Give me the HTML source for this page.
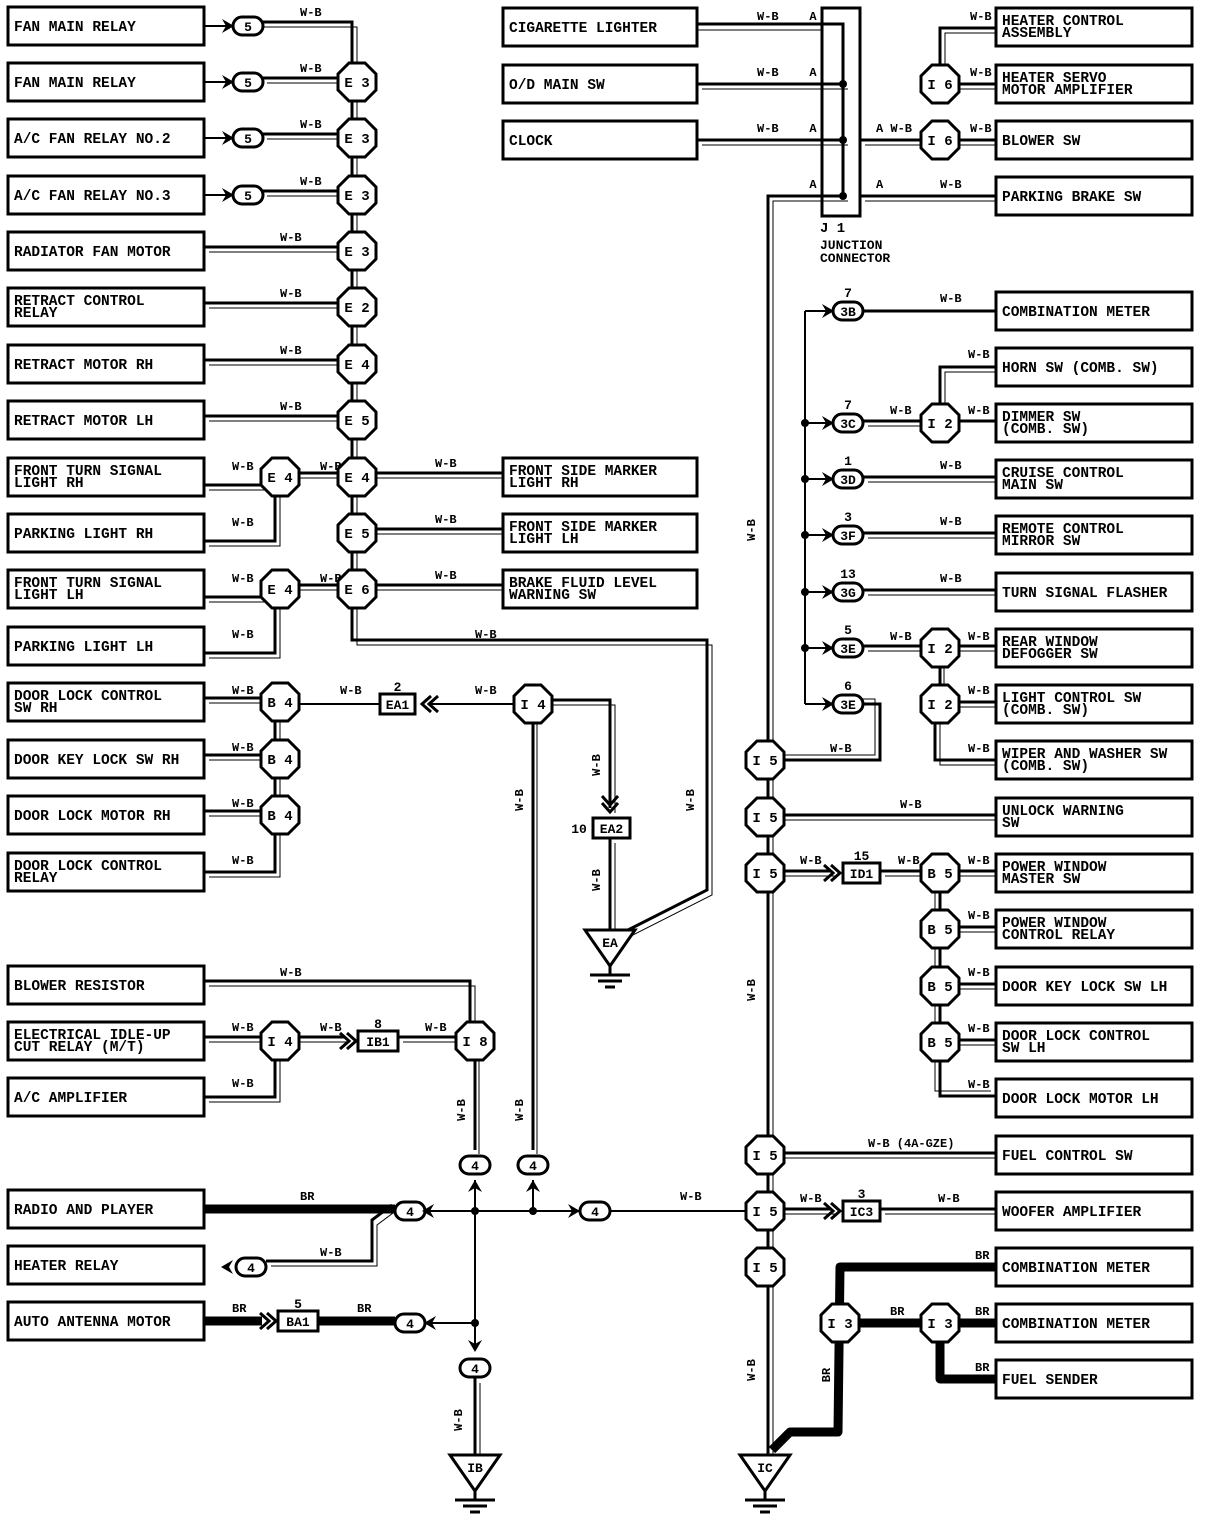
<!DOCTYPE html>
<html><head><meta charset="utf-8"><style>
html,body{margin:0;padding:0;background:#fff;}
svg{display:block;}
text{font-family:"Liberation Mono",monospace;font-weight:bold;fill:#000;}
</style></head><body>
<svg id="s" width="1216" height="1524" viewBox="0 0 1216 1524" xmlns="http://www.w3.org/2000/svg"></svg>
<script>
var W=[],N=[];
function P(a){return a.map(function(p){return p[0]+','+p[1]}).join(' ');}
function wire(pts,off){off=(off===undefined)?5:off;
 W.push('<polyline points="'+P(pts)+'" fill="none" stroke="#000" stroke-width="3"/>');
 if(off) W.push('<polyline points="'+P(pts.map(function(p){return [p[0]+off,p[1]+off]}))+'" fill="none" stroke="#000" stroke-width="1"/>');}
function thin(pts){W.push('<polyline points="'+P(pts)+'" fill="none" stroke="#000" stroke-width="2"/>');}
function thick(pts){W.push('<polyline points="'+P(pts)+'" fill="none" stroke="#000" stroke-width="9" stroke-linejoin="round"/>');}
function t(x,y,s,sz,anch){sz=sz||12;N.push('<text x="'+x+'" y="'+y+'" font-size="'+sz+'"'+(anch?' text-anchor="'+anch+'"':'')+'>'+s+'</text>');}
function tv(x,y,s){N.push('<text x="'+x+'" y="'+y+'" font-size="12" transform="rotate(-90 '+x+' '+y+')" text-anchor="middle">'+s+'</text>');}
function box(x,cy,w,s){N.push('<rect x="'+x+'" y="'+(cy-19)+'" width="'+w+'" height="38" fill="#fff" stroke="#000" stroke-width="3"/>');
 var l=s.split('|');
 if(l.length==1) t(x+6,cy+5,l[0],14.5);
 else {t(x+6,cy-2,l[0],14.5);t(x+6,cy+10,l[1],14.5);}}
function oct(cx,cy,s){var r=19,a=8;
 N.push('<polygon points="'+P([[cx-a,cy-r],[cx+a,cy-r],[cx+r,cy-a],[cx+r,cy+a],[cx+a,cy+r],[cx-a,cy+r],[cx-r,cy+a],[cx-r,cy-a]])+'" fill="#fff" stroke="#000" stroke-width="3"/>');
 t(cx,cy+5,s,14,'middle');}
function ov(cx,cy,s){N.push('<rect x="'+(cx-15)+'" y="'+(cy-9)+'" width="30" height="18" rx="9" fill="#fff" stroke="#000" stroke-width="3"/>');t(cx,cy+5,s,13,'middle');}
function sb(x,cy,w,s,num){N.push('<rect x="'+x+'" y="'+(cy-10)+'" width="'+w+'" height="20" fill="#fff" stroke="#000" stroke-width="3"/>');t(x+w/2,cy+5,s,13,'middle');if(num)t(x+w/2,cy-13,num,13,'middle');}
function arr(x,y,dir){
 var p;
 if(dir=='r')p=[[x,y],[x-12,y-7],[x-8,y],[x-12,y+7]];
 if(dir=='l')p=[[x,y],[x+12,y-7],[x+8,y],[x+12,y+7]];
 if(dir=='u')p=[[x,y],[x-7,y+12],[x,y+8],[x+7,y+12]];
 if(dir=='d')p=[[x,y],[x-7,y-12],[x,y-8],[x+7,y-12]];
 N.push('<polygon points="'+P(p)+'" fill="#000"/>');}
function chev(x,y,dir){var s=dir=='r'?1:(dir=='l'?-1:0);
 if(dir=='r'||dir=='l'){for(var i=0;i<2;i++){var xx=x-s*i*7;N.push('<polyline points="'+P([[xx-s*9,y-8],[xx,y],[xx-s*9,y+8]])+'" fill="none" stroke="#000" stroke-width="3"/>');}}
 else {for(var i=0;i<2;i++){var yy=y-i*7;N.push('<polyline points="'+P([[x-8,yy-9],[x,yy],[x+8,yy-9]])+'" fill="none" stroke="#000" stroke-width="3"/>');}}}
function dot(x,y){N.push('<circle cx="'+x+'" cy="'+y+'" r="4" fill="#000"/>');}
function gnd(cx,ty,s){N.push('<polygon points="'+P([[cx-25,ty],[cx+25,ty],[cx,ty+36]])+'" fill="#fff" stroke="#000" stroke-width="3"/>');t(cx,ty+17,s,13,'middle');
 N.push('<line x1="'+cx+'" y1="'+(ty+36)+'" x2="'+cx+'" y2="'+(ty+44)+'" stroke="#000" stroke-width="3"/>');
 N.push('<line x1="'+(cx-20)+'" y1="'+(ty+45)+'" x2="'+(cx+20)+'" y2="'+(ty+45)+'" stroke="#000" stroke-width="3"/>');
 N.push('<line x1="'+(cx-12)+'" y1="'+(ty+51)+'" x2="'+(cx+12)+'" y2="'+(ty+51)+'" stroke="#000" stroke-width="3"/>');
 N.push('<line x1="'+(cx-5)+'" y1="'+(ty+57)+'" x2="'+(cx+5)+'" y2="'+(ty+57)+'" stroke="#000" stroke-width="3"/>');}
var L=[[26,'FAN MAIN RELAY'],[82,'FAN MAIN RELAY'],[138,'A/C FAN RELAY NO.2'],[195,'A/C FAN RELAY NO.3'],[251,'RADIATOR FAN MOTOR'],[307,'RETRACT CONTROL|RELAY'],[364,'RETRACT MOTOR RH'],[420,'RETRACT MOTOR LH'],[477,'FRONT TURN SIGNAL|LIGHT RH'],[533,'PARKING LIGHT RH'],[589,'FRONT TURN SIGNAL|LIGHT LH'],[646,'PARKING LIGHT LH'],[702,'DOOR LOCK CONTROL|SW RH'],[759,'DOOR KEY LOCK SW RH'],[815,'DOOR LOCK MOTOR RH'],[872,'DOOR LOCK CONTROL|RELAY'],[985,'BLOWER RESISTOR'],[1041,'ELECTRICAL IDLE-UP|CUT RELAY (M/T)'],[1097,'A/C AMPLIFIER'],[1209,'RADIO AND PLAYER'],[1265,'HEATER RELAY'],[1321,'AUTO ANTENNA MOTOR']];
var EX=357;
wire([[248,22],[352,22],[352,640],[707,640],[707,890],[618,935]]);
[82,138,195].forEach(function(y){thin([[204,y],[232,y]]);arr(234,y,'r');wire([[262,y-4],[EX,y-4]]);t(300,y-10,'W-B');});
thin([[204,26],[232,26]]);arr(234,26,'r');t(300,16,'W-B');
[251,307,364,420].forEach(function(y){wire([[204,y-4],[EX,y-4]]);t(280,y-10,'W-B');});
wire([[204,485],[275,485],[275,477]]);wire([[204,541],[275,541],[275,477]]);
wire([[204,597],[275,597],[275,589]]);wire([[204,653],[275,653],[275,589]]);
t(232,470,'W-B');t(232,526,'W-B');t(232,582,'W-B');t(232,638,'W-B');
wire([[280,473],[EX,473]]);wire([[280,585],[EX,585]]);t(320,470,'W-B');t(320,582,'W-B');
[477,533,589].forEach(function(y){wire([[EX,y-4],[503,y-4]]);t(435,y-10,'W-B');});
t(475,638,'W-B');
wire([[204,698],[275,698],[275,872],[204,872]]);
[759,815].forEach(function(y){wire([[204,y-4],[275,y-4]]);});
t(232,694,'W-B');t(232,751,'W-B');t(232,807,'W-B');t(232,864,'W-B');
thin([[280,704],[380,704]]);t(340,694,'W-B');
thin([[430,704],[533,704]]);t(475,694,'W-B');
wire([[533,700],[610,700],[610,808]]);tv(600,765,'W-B');
wire([[610,838],[610,930]]);tv(600,880,'W-B');tv(694,800,'W-B');
wire([[533,704],[533,1150]],4);tv(523,800,'W-B');
wire([[204,981],[470,981],[470,1041]]);t(280,976,'W-B');
wire([[204,1037],[275,1037],[275,1097],[204,1097]]);t(232,1031,'W-B');t(232,1087,'W-B');
wire([[280,1037],[345,1037]]);t(320,1031,'W-B');
wire([[398,1037],[470,1037]]);t(425,1031,'W-B');
wire([[475,1041],[475,1150]],4);tv(465,1110,'W-B');tv(523,1110,'W-B');
thin([[475,1180],[475,1320]]);thin([[420,1211],[580,1211]]);thin([[533,1180],[533,1211]]);thin([[420,1323],[475,1323]]);thin([[475,1323],[475,1350]]);
dot(475,1211);dot(533,1211);dot(475,1323);
wire([[475,1378],[475,1455]],5);tv(462,1420,'W-B');
thick([[204,1209],[395,1209]]);t(300,1200,'BR');
wire([[266,1261],[372,1261],[372,1220],[392,1205]]);t(320,1256,'W-B');
thick([[204,1321],[262,1321]]);thick([[318,1321],[395,1321]]);t(232,1312,'BR');t(357,1312,'BR');
thin([[610,1211],[765,1211]]);t(680,1200,'W-B');
wire([[697,24],[843,24],[843,196]],0);
W.push('<line x1="697" y1="30" x2="822" y2="30" stroke="#000" stroke-width="1"/>');
[84,140].forEach(function(y){wire([[697,y],[843,y]]);});
t(757,20,'W-B');t(757,76,'W-B');t(757,132,'W-B');
[20,76,132,188].forEach(function(y){t(813,y,'A',12,'middle');});
wire([[768,1455],[768,196],[843,196]],5);
t(876,132,'A W-B',12);t(876,188,'A');t(940,188,'W-B');
wire([[860,196],[996,196]]);
wire([[860,140],[940,140]]);
wire([[940,84],[940,28],[996,28]],5);
wire([[940,84],[996,84]]);wire([[940,140],[996,140]]);
t(970,20,'W-B');t(970,76,'W-B');t(970,132,'W-B');
N.push('<rect x="822" y="8" width="38" height="208" fill="none" stroke="#000" stroke-width="3"/>');
dot(843,84);dot(843,140);dot(843,196);
t(820,232,'J 1',14);t(820,249,'JUNCTION',13);t(820,262,'CONNECTOR',13);
thin([[805,311],[805,704]]);
[311,423,479,535,592,648,704].forEach(function(y){thin([[805,y],[830,y]]);arr(834,y,'r');});
[423,479,535,592,648].forEach(function(y){dot(805,y);});
wire([[863,311],[996,311]],0);t(940,302,'W-B');
wire([[863,421],[940,421]]);t(890,414,'W-B');
wire([[940,423],[940,367],[996,367]]);t(968,358,'W-B');
wire([[940,421],[996,421]],0);t(968,414,'W-B');
[479,535,592].forEach(function(y){wire([[863,y-2],[996,y-2]]);t(940,y-10,'W-B');});
wire([[863,646],[940,646]]);t(890,640,'W-B');
wire([[940,646],[996,646]]);wire([[940,648],[940,704]],4);
wire([[940,702],[996,702]]);t(968,694,'W-B');
wire([[935,704],[935,760],[996,760]],5);t(968,752,'W-B');t(968,640,'W-B');
wire([[863,704],[880,704],[880,760],[765,760]],-5);t(830,752,'W-B');
wire([[765,815],[996,815]]);t(900,808,'W-B');
wire([[765,871],[830,871]]);t(800,864,'W-B');
wire([[880,871],[996,871]]);t(898,864,'W-B');t(968,864,'W-B');
wire([[940,873],[940,1096],[996,1096]],-5);
[929,986,1042].forEach(function(y){wire([[940,y-2],[996,y-2]]);t(968,y-10,'W-B');});t(968,1088,'W-B');
wire([[765,1153],[996,1153]]);t(868,1147,'W-B (4A-GZE)',12);
wire([[765,1209],[830,1209]]);t(800,1202,'W-B');
wire([[880,1209],[996,1209]]);t(938,1202,'W-B');
tv(755,530,'W-B');tv(755,990,'W-B');tv(755,1370,'W-B');
thick([[772,1450],[790,1432],[838,1432],[840,1267],[996,1267]]);
thick([[840,1323],[996,1323]]);
thick([[940,1323],[940,1379],[996,1379]]);
t(975,1259,'BR');t(890,1315,'BR');t(975,1315,'BR');t(975,1371,'BR');tv(830,1375,'BR');
L.forEach(function(r){box(8,r[0],196,r[1]);});
[26,82,138,195].forEach(function(y){ov(248,y,'5');});
var E=[[82,'E 3'],[138,'E 3'],[195,'E 3'],[251,'E 3'],[307,'E 2'],[364,'E 4'],[420,'E 5'],[477,'E 4'],[533,'E 5'],[589,'E 6']];
E.forEach(function(e){oct(EX,e[0],e[1]);});
oct(280,477,'E 4');oct(280,589,'E 4');
[702,759,815].forEach(function(y){oct(280,y,'B 4');});
box(503,477,194,'FRONT SIDE MARKER|LIGHT RH');box(503,533,194,'FRONT SIDE MARKER|LIGHT LH');box(503,589,194,'BRAKE FLUID LEVEL|WARNING SW');
sb(380,704,35,'EA1','2');chev(422,704,'l');
oct(533,704,'I 4');
chev(610,812,'d');sb(593,828,37,'EA2');t(579,833,'10',13,'middle');
gnd(610,930,'EA');
oct(280,1041,'I 4');chev(356,1041,'r');sb(358,1041,40,'IB1','8');oct(475,1041,'I 8');
ov(475,1165,'4');arr(475,1180,'u');ov(533,1165,'4');arr(533,1180,'u');
ov(410,1211,'4');arr(422,1211,'l');ov(595,1211,'4');arr(580,1211,'r');
ov(251,1267,'4');arr(221,1267,'l');
chev(276,1321,'r');sb(278,1321,40,'BA1','5');ov(410,1323,'4');arr(424,1323,'l');
arr(475,1352,'d');ov(475,1368,'4');
gnd(475,1455,'IB');
box(503,27,194,'CIGARETTE LIGHTER');box(503,84,194,'O/D MAIN SW');box(503,140,194,'CLOCK');
oct(940,84,'I 6');oct(940,140,'I 6');
var R=[[27,'HEATER CONTROL|ASSEMBLY'],[84,'HEATER SERVO|MOTOR AMPLIFIER'],[140,'BLOWER SW'],[196,'PARKING BRAKE SW'],[311,'COMBINATION METER'],[367,'HORN SW (COMB. SW)'],[423,'DIMMER SW|(COMB. SW)'],[479,'CRUISE CONTROL|MAIN SW'],[535,'REMOTE CONTROL|MIRROR SW'],[592,'TURN SIGNAL FLASHER'],[648,'REAR WINDOW|DEFOGGER SW'],[704,'LIGHT CONTROL SW|(COMB. SW)'],[760,'WIPER AND WASHER SW|(COMB. SW)'],[817,'UNLOCK WARNING|SW'],[873,'POWER WINDOW|MASTER SW'],[929,'POWER WINDOW|CONTROL RELAY'],[986,'DOOR KEY LOCK SW LH'],[1042,'DOOR LOCK CONTROL|SW LH'],[1098,'DOOR LOCK MOTOR LH'],[1155,'FUEL CONTROL SW'],[1211,'WOOFER AMPLIFIER'],[1267,'COMBINATION METER'],[1323,'COMBINATION METER'],[1379,'FUEL SENDER']];
R.forEach(function(r){box(996,r[0],196,r[1]);});
[[311,'3B','7'],[423,'3C','7'],[479,'3D','1'],[535,'3F','3'],[592,'3G','13'],[648,'3E','5'],[704,'3E','6']].forEach(function(o){ov(848,o[0],o[1]);t(848,o[0]-14,o[2],13,'middle');});
oct(940,423,'I 2');oct(940,648,'I 2');oct(940,704,'I 2');
[760,817,873,1155,1211,1267].forEach(function(y){oct(765,y,'I 5');});
chev(840,873,'r');sb(843,873,37,'ID1','15');
[873,929,986,1042].forEach(function(y){oct(940,y,'B 5');});
chev(840,1211,'r');sb(843,1211,37,'IC3','3');
oct(840,1323,'I 3');oct(940,1323,'I 3');
gnd(765,1455,'IC');
document.getElementById('s').innerHTML=W.join('')+N.join('');
</script>
</body></html>
